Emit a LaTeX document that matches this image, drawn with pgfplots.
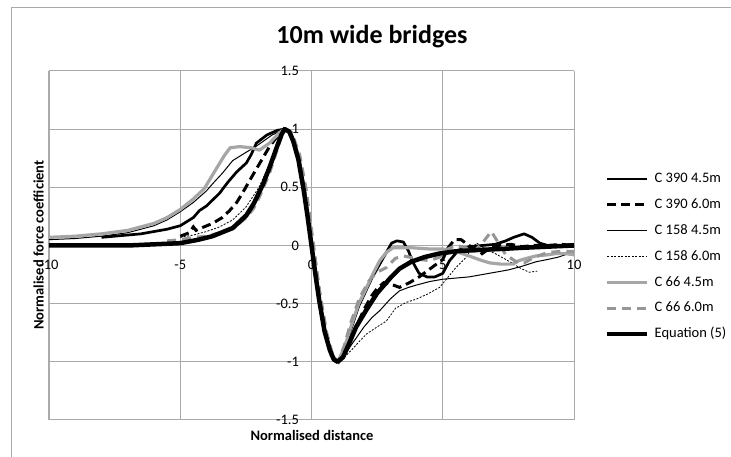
\documentclass[border=0pt]{standalone}
\usepackage{fontspec}
\setmainfont{Carlito}
\usepackage{pgfplots}
\pgfplotsset{compat=1.18}
\definecolor{gridgray}{RGB}{170,170,170}
\definecolor{lgray}{RGB}{166,166,166}
\definecolor{dgray}{RGB}{150,150,150}
\newcommand{\tfont}{\fontsize{14.5}{17}\selectfont}
\begin{document}
\begin{tikzpicture}
\useasboundingbox (0,0) rectangle (731pt,457pt);
\draw[gridgray, line width=1pt] (11pt,-10pt) -- (11pt,449pt) -- (745pt,449pt);
\begin{axis}[
 at={(49pt,37pt)}, anchor=south west,
 width=525pt, height=349pt, scale only axis,
 xmin=-10, xmax=10, ymin=-1.5, ymax=1.5,
 axis lines=middle,
 axis line style={gridgray, line width=1pt, -},
 xtick={-10,-5,0,5,10}, ytick={-1.5,-1,-0.5,0,0.5,1,1.5},
 grid=major, grid style={gridgray, line width=1pt},
 major tick length=0pt,
 hide obscured x ticks=false, hide obscured y ticks=false,
 tick label style={font=\tfont},
 /pgf/number format/assume math mode=true,
 xticklabel style={anchor=north, yshift=-11pt},
 yticklabel style={anchor=east, xshift=-9pt},
 legend style={at={(axis description cs:1.059,0.4685)}, anchor=west, draw=none, fill=none, inner sep=0pt, font=\tfont, row sep=12.3pt, column sep=5pt, nodes={inner sep=0pt, anchor=west, text height=10.5pt, text depth=3pt}},
 legend cell align=left,
 legend image code/.code={\draw[#1] (0pt,0pt) -- (40pt,0pt);},
]
% C 390 4.5m
\addplot[black, line width=2.7pt, line join=round] coordinates {
(-8,0.07) (-7.5,0.08) (-7,0.09) (-6.5,0.10) (-6,0.12) (-5.5,0.14) (-5,0.17) (-4.5,0.24) (-4.27,0.30) (-4,0.34) (-3.5,0.45) (-3.2,0.54) (-2.86,0.63) (-2.48,0.71) (-2.3,0.78) (-2.1,0.88) (-1.7,0.95) (-1.3,0.99) (-1.03,1.0) (-0.8,0.97) (-0.5,0.76) (-0.25,0.45) (0,0.0) (0.25,-0.42) (0.5,-0.74) (0.75,-0.94) (1.0,-1.0) (1.25,-0.9) (1.5,-0.72) (1.8,-0.52) (2.05,-0.4) (2.3,-0.28) (2.6,-0.16) (2.85,-0.06) (3.05,0.02) (3.25,0.04) (3.5,0.03) (3.7,-0.05) (3.85,-0.14) (4.1,-0.24) (4.4,-0.27) (4.7,-0.27) (5.0,-0.24) (5.26,-0.13) (5.6,-0.04) (6.0,-0.01) (6.5,0.0) (7.0,0.01) (7.4,0.04) (7.7,0.07) (8.1,0.1) (8.4,0.07) (8.7,0.02) (9.0,0.0) (9.5,0.0) (10,0.01)
};
\addlegendentry{C 390 4.5m}
% C 390 6.0m
\addplot[black, line width=3pt, dash pattern=on 9pt off 5pt] coordinates {
(-5,0.08) (-4.65,0.11) (-4.5,0.16) (-4.4,0.13) (-4.2,0.15) (-3.77,0.19) (-3.4,0.24) (-3.12,0.3) (-2.85,0.37) (-2.63,0.45) (-2.25,0.6) (-1.86,0.75) (-1.6,0.85) (-1.33,0.93) (-1.03,1.0) (-0.8,0.97) (-0.5,0.77) (-0.25,0.45) (0,0) (0.25,-0.42) (0.5,-0.74) (0.75,-0.94) (1,-1) (1.25,-0.92) (1.5,-0.8) (1.7,-0.7) (2,-0.55) (2.3,-0.43) (2.5,-0.37) (2.75,-0.32) (3.0,-0.33) (3.35,-0.36) (3.73,-0.32) (4.1,-0.27) (4.4,-0.22) (4.7,-0.17) (5.0,-0.12) (5.2,-0.02) (5.45,0.05) (5.7,0.05) (6.0,0.0) (6.3,-0.03) (6.5,-0.07) (6.8,-0.02) (7.2,0.0) (7.6,0.01) (8.0,-0.01) (8.5,0.0) (9,0.0) (9.5,0.01) (10,0.0)
};
\addlegendentry{C 390 6.0m}
% C 158 4.5m
\addplot[black, line width=1pt] coordinates {
(-10,0.05) (-9,0.06) (-8,0.08) (-7,0.11) (-6,0.17) (-5.5,0.22) (-5,0.29) (-4.5,0.37) (-4,0.47) (-3.77,0.53) (-3.4,0.62) (-3.0,0.73) (-2.5,0.8) (-2.2,0.84) (-2.0,0.87) (-1.5,0.95) (-1.03,1.0) (-0.8,0.97) (-0.5,0.77) (-0.25,0.45) (0,0) (0.25,-0.42) (0.5,-0.74) (0.75,-0.94) (1,-1) (1.25,-0.95) (1.5,-0.86) (2,-0.7) (2.3,-0.62) (2.6,-0.56) (3.0,-0.46) (3.35,-0.39) (3.7,-0.36) (4,-0.34) (4.5,-0.31) (5,-0.29) (5.5,-0.28) (6,-0.27) (6.5,-0.25) (7,-0.23) (7.5,-0.21) (8,-0.18) (8.55,-0.14) (9,-0.12) (9.4,-0.1) (9.8,-0.07)
};
\addlegendentry{C 158 4.5m}
% C 158 6.0m
\addplot[black, line width=0.8pt, dash pattern=on 2pt off 1.5pt] coordinates {
(-5,0.07) (-4.5,0.09) (-4,0.12) (-3.5,0.16) (-3.0,0.22) (-2.5,0.33) (-2.0,0.5) (-1.6,0.7) (-1.3,0.88) (-1.03,1.0) (-0.8,0.98) (-0.5,0.78) (-0.25,0.46) (0,0) (0.25,-0.42) (0.5,-0.74) (0.75,-0.94) (1,-1) (1.25,-0.96) (1.56,-0.89) (1.8,-0.83) (2.1,-0.76) (2.5,-0.7) (2.85,-0.65) (3.2,-0.54) (3.6,-0.49) (4,-0.46) (4.4,-0.42) (4.88,-0.36) (5.1,-0.3) (5.5,-0.19) (5.9,-0.1) (6.1,-0.02) (6.3,0.02) (6.6,-0.03) (7,-0.07) (7.4,-0.12) (7.7,-0.16) (8.0,-0.2) (8.3,-0.23) (8.6,-0.22)
};
\addlegendentry{C 158 6.0m}
% C 66 4.5m
\addplot[lgray, line width=3.2pt, line join=round] coordinates {
(-10,0.07) (-9,0.08) (-8,0.1) (-7,0.13) (-6,0.19) (-5.5,0.24) (-5,0.31) (-4.5,0.4) (-4.08,0.49) (-3.6,0.67) (-3.3,0.78) (-3.1,0.84) (-2.74,0.85) (-2.3,0.84) (-1.98,0.82) (-1.6,0.88) (-1.22,0.97) (-1.03,1.0) (-0.8,0.97) (-0.5,0.77) (-0.25,0.45) (0,0) (0.25,-0.42) (0.5,-0.74) (0.75,-0.94) (1,-1) (1.25,-0.88) (1.5,-0.7) (1.8,-0.5) (2.1,-0.36) (2.35,-0.24) (2.6,-0.13) (2.85,-0.06) (3.1,-0.02) (3.5,-0.02) (3.85,-0.02) (4.5,-0.03) (5,-0.03) (5.5,-0.05) (6.0,-0.09) (6.5,-0.13) (6.8,-0.15) (7.2,-0.16) (7.66,-0.16) (7.9,-0.13) (8.2,-0.11) (8.55,-0.09) (9.0,-0.08) (9.3,-0.07) (9.7,-0.07) (10,-0.08)
};
\addlegendentry{C 66 4.5m}
% C 66 6.0m
\addplot[dgray, line width=3pt, dash pattern=on 9pt off 6pt] coordinates {
(-5.5,0.04) (-5,0.05) (-4.5,0.07) (-4,0.08) (-3.5,0.11) (-3.12,0.14) (-2.8,0.18) (-2.48,0.24) (-2.2,0.32) (-1.98,0.42) (-1.6,0.62) (-1.3,0.83) (-1.1,0.96) (-0.95,1.0) (-0.75,0.97) (-0.45,0.78) (-0.2,0.48) (0.08,0.0) (0.33,-0.42) (0.58,-0.75) (0.82,-0.95) (1.02,-1) (1.25,-0.86) (1.5,-0.66) (1.83,-0.45) (2.2,-0.30) (2.5,-0.23) (2.85,-0.19) (3.2,-0.11) (3.5,-0.09) (3.73,-0.1) (4.1,-0.12) (4.5,-0.13) (4.88,-0.1) (5.2,-0.03) (5.5,0.0) (5.9,-0.02) (6.2,-0.05) (6.5,0.02) (6.85,0.12) (7.1,0.03) (7.4,-0.08) (7.8,-0.14) (8.1,-0.15) (8.5,-0.1) (9.0,-0.06) (9.5,-0.05) (10,-0.05)
};
\addlegendentry{C 66 6.0m}
% Equation (5)
\addplot[black, line width=4.5pt, line join=round] coordinates {
(-10,0) (-9,0) (-8,0) (-7,0.0) (-6,0.01) (-5,0.02) (-4.3,0.05) (-3.77,0.08) (-3,0.15) (-2.48,0.26) (-2.2,0.36) (-1.86,0.52) (-1.6,0.67) (-1.33,0.84) (-1.15,0.95) (-1.03,1.0) (-0.85,0.98) (-0.7,0.9) (-0.5,0.74) (-0.3,0.48) (-0.15,0.25) (0,0) (0.15,-0.25) (0.3,-0.48) (0.5,-0.74) (0.7,-0.9) (0.85,-0.98) (1.0,-1.0) (1.2,-0.96) (1.4,-0.86) (1.7,-0.7) (2.1,-0.55) (2.5,-0.41) (3.0,-0.28) (3.35,-0.2) (3.8,-0.14) (4.3,-0.1) (4.85,-0.07) (5.5,-0.05) (6.2,-0.04) (7.2,-0.03) (8,-0.02) (9,-0.01) (10,0)
};
\addlegendentry{Equation (5)}
\end{axis}
\node[font=\fontsize{26}{30}\selectfont\bfseries] at (372pt,420pt) {10m wide bridges};
\node[rotate=90, font=\tfont\bfseries] at (38.5pt,212pt) {Normalised force coefficient};
\node[font=\tfont\bfseries] at (312pt,22pt) {Normalised distance};
\end{tikzpicture}
\end{document}
